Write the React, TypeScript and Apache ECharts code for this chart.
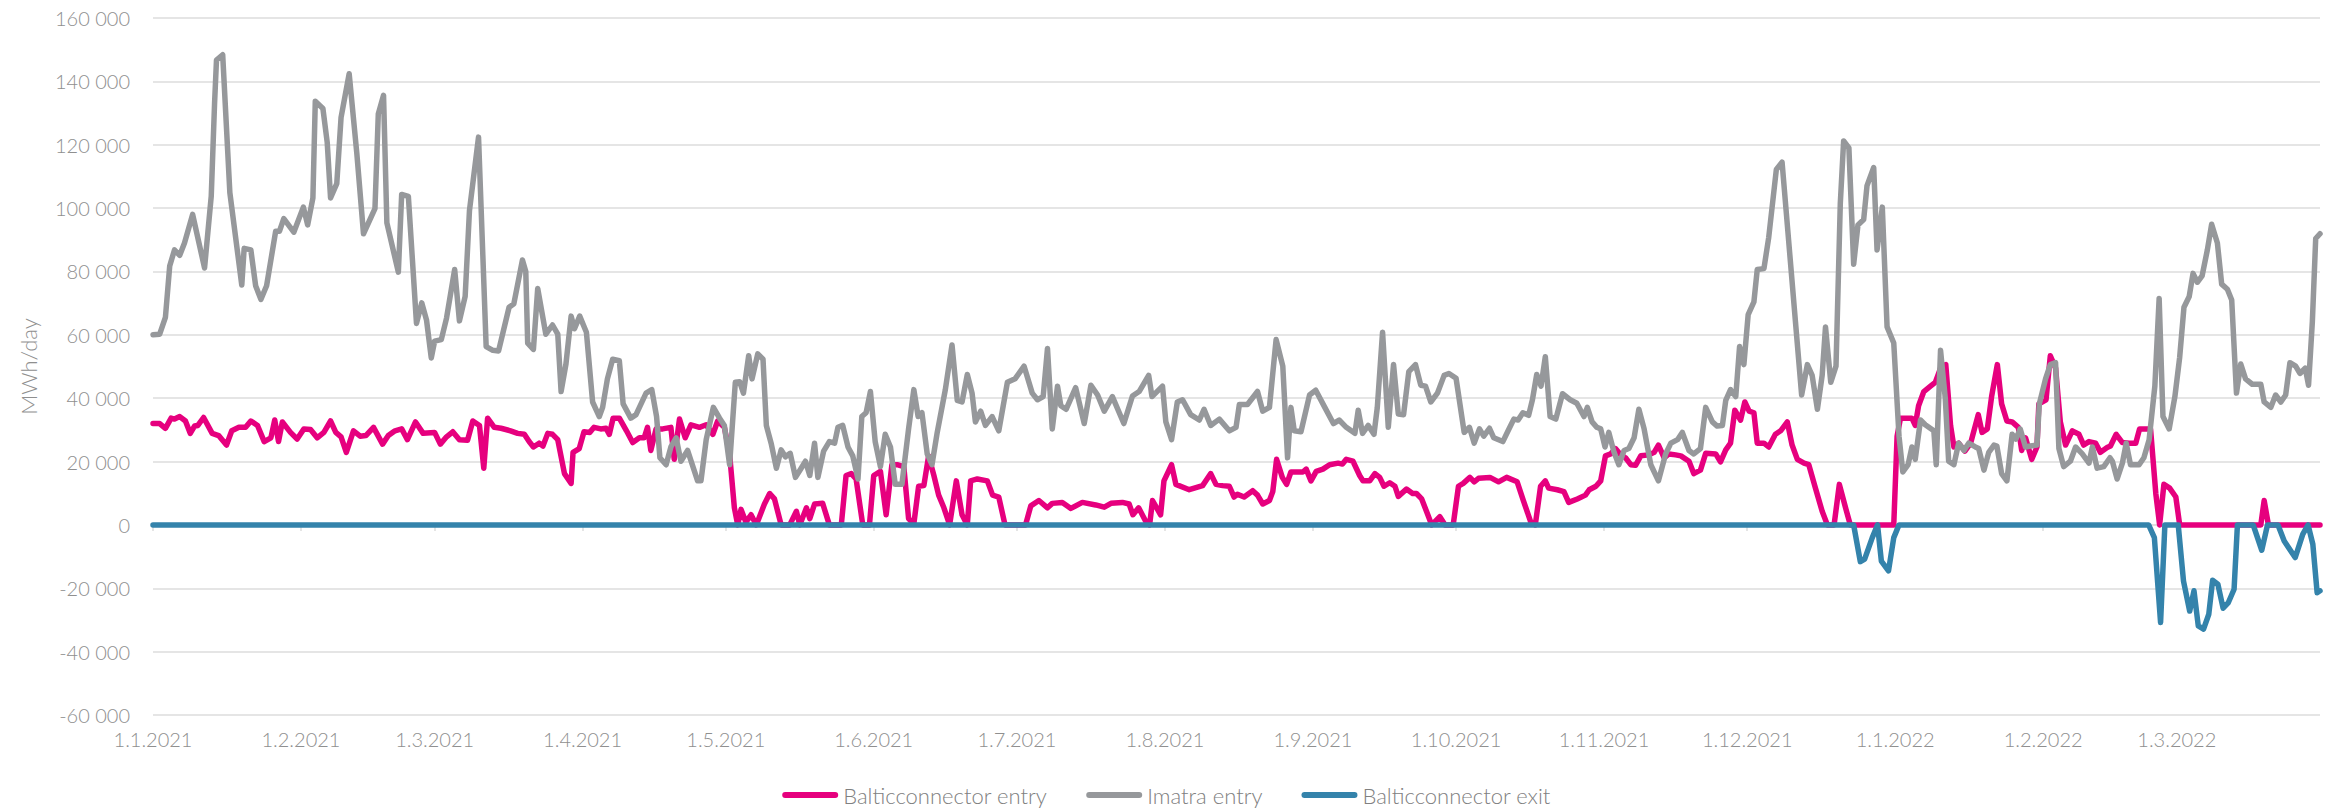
import React, { useEffect, useRef } from 'react';
import * as echarts from 'echarts';

// Day offsets are counted from 1.1.2021 (day 0); 31.3.2022 is day 454.
const monthTickDays = [0, 31, 59, 90, 120, 151, 181, 212, 243, 273, 304, 334, 365, 396, 424];
const monthTickLabels = [
  '1.1.2021', '1.2.2021', '1.3.2021', '1.4.2021', '1.5.2021', '1.6.2021', '1.7.2021', '1.8.2021',
  '1.9.2021', '1.10.2021', '1.11.2021', '1.12.2021', '1.1.2022', '1.2.2022', '1.3.2022',
];
const firstDay = 0;
const lastDay = 454;
const yTicks = { min: -60000, max: 160000, step: 20000 };

const seriesNames = ['Balticconnector entry', 'Imatra entry', 'Balticconnector exit'];

// [day offset, MWh/day]
const balticconnectorEntry: [number, number][] = [
  [0, 32000], [1.4, 32000], [2.6, 30500], [3.8, 33700], [4.5, 33400], [5.6, 34200], [6.8, 32800], [7.8, 28900],
  [8.7, 31200], [9.4, 31400], [10.6, 33900], [12.4, 28900], [13.75, 28200], [15.4, 25200], [16.5, 29700], [18, 30800],
  [19.4, 30800], [20.5, 32800], [21.9, 31400], [23.3, 26300], [24.7, 27500], [25.5, 33100], [26.3, 26300], [27.1, 32500],
  [28.8, 29200], [30.2, 27100], [31.6, 30300], [33, 30100], [34.4, 27500], [35.8, 29200], [37.2, 32800], [38.3, 29200],
  [39.4, 27800], [40.5, 22900], [42, 29700], [43.4, 28000], [44.6, 28200], [46.2, 30800], [48.1, 25500], [49.3, 28200],
  [50.7, 29700], [52.1, 30300], [53.3, 26900], [55, 32500], [56.6, 28900], [59, 29200], [60.2, 25500], [61.5, 27800],
  [62.8, 29400], [64.2, 26900], [65.9, 26700], [67, 32800], [68.4, 31400], [69.3, 17900], [70.1, 33700], [71.5, 30800],
  [72.9, 30500], [74.9, 29700], [76.4, 28900], [77.8, 28600], [78.8, 26300], [79.7, 24600], [80.9, 25800], [81.7, 24900],
  [82.7, 28900], [83.7, 28600], [84.8, 26900], [86.2, 16200], [87.6, 13100], [88, 22900], [89.3, 24100], [90.3, 29400],
  [91.5, 29200], [92.4, 30800], [93.8, 30300], [94.9, 30500], [95.6, 28600], [96.4, 33700], [97.7, 33700], [99.2, 29700],
  [100.5, 26000], [101.9, 27500], [102.9, 27500], [103.6, 30800], [104.3, 23500], [105.4, 30300], [106.8, 30300], [108.5, 30800],
  [109.2, 20700], [110.3, 33400], [111.5, 27500], [112.7, 31600], [114.5, 30800], [115.9, 31600], [117.3, 28600], [118.3, 32800],
  [119.7, 30800], [120.8, 22400], [121.8, 5400], [122.5, 0], [123.2, 4900], [124.2, 900], [125.3, 3200], [126.4, 0],
  [128.1, 6600], [129.2, 9900], [130.2, 8200], [131.6, 0], [133.4, 0], [134.8, 4300], [135.5, 0], [136.9, 5400],
  [137.6, 2000], [138.6, 6600], [140.3, 6800], [141.7, 0], [144.2, 0], [145.2, 15600], [146.3, 16200], [147.3, 14500],
  [148.7, 0], [150.1, 0], [151, 15600], [152.4, 16900], [153.6, 3200], [154.8, 19000], [155.9, 19000], [157.3, 18400],
  [158.3, 2000], [159.4, 300], [160.4, 12200], [161.5, 12400], [162.5, 21800], [163.6, 15600], [164.6, 9400], [165.7, 5400],
  [166.9, 0], [168.3, 13900], [169.5, 3200], [170.6, 0], [171.3, 13900], [172.7, 14500], [174.8, 13900], [175.9, 9400],
  [177.2, 8800], [178.5, 0], [182.8, 0], [183.9, 6000], [185.6, 7700], [187.4, 5400], [188.4, 6800], [190.5, 7100],
  [192.3, 5200], [194.7, 7100], [197.5, 6300], [199.3, 5600], [200.7, 6800], [203.1, 7100], [204.5, 6600], [205.3, 3200],
  [206.5, 5400], [208, 1100], [208.8, 0], [209.4, 7700], [211.1, 3200], [211.8, 13900], [213.4, 19000], [214.3, 12800],
  [217.1, 11100], [219.9, 12400], [221.6, 16200], [222.7, 12800], [224.1, 12400], [225.5, 12200], [226.5, 8800], [227.2, 9700],
  [228.6, 8800], [230.4, 10800], [231.4, 9400], [232.5, 6600], [233.9, 7700], [234.6, 10500], [235.4, 20700], [236.6, 15000],
  [237.5, 12800], [238.4, 16700], [240.9, 16700], [241.6, 17600], [242.6, 13900], [243.7, 16900], [245.1, 17600], [246.5, 19000],
  [248.3, 19500], [249.2, 19200], [250, 20700], [251.4, 20100], [252.8, 15600], [253.5, 13900], [254.9, 13900], [256, 16200],
  [257, 15000], [257.9, 12200], [259.1, 13300], [260.2, 12200], [260.9, 9000], [262.6, 11300], [263.9, 9900], [264.7, 9900],
  [265.8, 8200], [266.8, 4300], [267.9, 0], [269.6, 2600], [270.7, 0], [272.4, 0], [273.5, 12200], [274.5, 13100],
  [275.9, 15000], [276.8, 13600], [277.7, 14700], [280.1, 15000], [281.9, 13600], [283.6, 15000], [285.8, 13600], [287.1, 7700],
  [288.6, 1100], [289.6, 0], [290.7, 12200], [291.7, 13900], [292.4, 11600], [294.2, 11100], [295.6, 10500], [296.6, 7100],
  [298.4, 8200], [300.1, 9400], [300.9, 11100], [302.3, 12200], [303.3, 13900], [304.3, 21800], [305.4, 22400], [306.4, 24100],
  [307.5, 22100], [308.5, 21200], [309.6, 19000], [310.6, 18800], [311.7, 21800], [313.4, 22100], [314.5, 22900], [315.4, 25200],
  [316.6, 21200], [317.6, 22400], [319, 22100], [320.1, 21800], [321.8, 20100], [322.8, 16200], [324.2, 17300], [325.3, 22600],
  [327.4, 22400], [328.4, 19900], [329.5, 23700], [330.5, 25800], [331.4, 36200], [332.6, 33100], [333.5, 38800], [334.4, 35900],
  [335.4, 35400], [336.1, 25800], [337.5, 25800], [338.5, 24600], [339.9, 28600], [341, 29700], [342.4, 32500], [343.4, 25200],
  [344.5, 20700], [345.9, 19500], [346.9, 19000], [348.3, 11600], [349.7, 4300], [350.8, 0], [352.2, 0], [353.3, 12800],
  [354.6, 5400], [355.6, 0], [364.7, 0], [365.4, 28000], [366.1, 33700], [368.5, 33700], [369.2, 31400], [369.9, 37600],
  [371, 42100], [372.4, 43800], [373.4, 45000], [374.5, 49500], [375.6, 50600], [376.6, 31400], [377.3, 24600], [378.3, 25800],
  [379.6, 23300], [380.8, 25800], [382.4, 34800], [383.2, 29200], [384.3, 30300], [385.2, 40500], [386.4, 50600], [387.3, 38200],
  [388.4, 32800], [389.5, 32500], [390.8, 30800], [391.5, 23500], [392.3, 27500], [393.6, 20700], [394.7, 24600], [395.1, 38200],
  [396.6, 39500], [397.5, 53400], [398.6, 49500], [399.6, 32500], [400.7, 25200], [402.1, 29700], [403.5, 28600], [404.5, 25200],
  [405.6, 26300], [407, 25800], [408, 22900], [409.4, 24400], [410.1, 24900], [411.3, 28600], [412.6, 26000], [414, 25800],
  [415.4, 25800], [416.2, 30300], [418.5, 30300], [419.6, 9900], [420.4, 0], [421.3, 12800], [422.5, 11600], [423.8, 8800],
  [424.6, 0], [441.6, 0], [442.3, 7700], [443.2, 0], [454, 0],
];

const imatraEntry: [number, number][] = [
  [0, 60000], [1.4, 60200], [2.6, 65500], [3.5, 81700], [4.5, 86800], [5.6, 85100], [6.6, 89000], [8.3, 98000],
  [10.8, 81100], [12.2, 103700], [12.9, 133100], [13.3, 146700], [14.6, 148400], [16.1, 104900], [18.6, 75700], [19.1, 87300],
  [20.5, 86800], [21.5, 75500], [22.6, 71200], [23.8, 75500], [25.7, 92700], [26.5, 92700], [27.4, 96700], [29.5, 92400],
  [31.5, 100300], [32.4, 94700], [33.5, 103200], [34, 133700], [35.6, 131400], [36.5, 120700], [37.2, 103200], [38.5, 107700],
  [39.4, 128600], [41.1, 142400], [42.7, 117300], [44.1, 91900], [46.5, 99800], [47.2, 129700], [48.3, 135600], [49, 95300],
  [51.4, 79800], [52.1, 104300], [53.5, 103700], [55.2, 63600], [56.3, 70100], [57.3, 64700], [58.3, 52700], [59, 58000],
  [60.4, 58500], [61.5, 65300], [63.2, 80600], [64.2, 64400], [65.4, 72100], [66.3, 99200], [68.2, 122400], [69.8, 56300],
  [71.2, 55100], [72.4, 54900], [74.6, 68700], [75.6, 69800], [77.4, 83600], [78.1, 80000], [78.5, 57400], [79.7, 55400],
  [80.6, 74600], [82.3, 60200], [83.7, 63100], [84.8, 60200], [85.5, 42100], [86.5, 50600], [87.6, 65900], [88.3, 61900],
  [89.4, 65900], [90.8, 60800], [92.1, 38800], [93.5, 34200], [94.2, 37100], [95.2, 46100], [96.3, 52300], [97.7, 51800],
  [98.5, 38200], [100.1, 33700], [101.2, 34800], [103.3, 41600], [104.5, 42700], [105.5, 34200], [106.2, 21200], [107.5, 19000],
  [108.5, 24600], [109.6, 27500], [110.6, 20100], [112, 23500], [114.1, 13900], [114.8, 13900], [115.9, 26900], [117.4, 37100],
  [118.7, 33700], [119.7, 31400], [120.8, 19000], [122, 45000], [122.9, 45200], [123.7, 41600], [124.8, 53400], [125.5, 46100],
  [126.7, 54000], [127.8, 52300], [128.5, 31400], [129.5, 25800], [130.6, 17900], [131.6, 23700], [132.5, 21500], [133.5, 22600],
  [134.6, 15000], [135.8, 17900], [136.7, 20100], [137.6, 15600], [138.6, 25800], [139.3, 15000], [140.5, 23300], [141.7, 26300],
  [142.8, 25800], [143.5, 30800], [144.5, 31400], [145.6, 24600], [146.6, 21800], [147.7, 14500], [148.5, 34200], [149.4, 35400],
  [150.3, 42100], [151.3, 26300], [152.4, 18400], [153.4, 28600], [154.5, 24600], [155.5, 12800], [156.9, 12800], [158.3, 30300],
  [159.4, 42700], [160.3, 34200], [161.1, 35400], [162.2, 22400], [163.2, 19000], [164.3, 29200], [166, 42700], [167.4, 56800],
  [168.5, 39300], [169.5, 38800], [170.6, 47500], [171.6, 41600], [172.3, 32500], [173.4, 35900], [174.4, 31400], [175.8, 34200],
  [177.2, 29700], [179, 45000], [180.6, 46100], [182.5, 50100], [184.2, 41600], [185.3, 39500], [186.5, 40500], [187.4, 55700],
  [188.4, 30300], [189.5, 43800], [190.2, 37600], [191.3, 36500], [193.3, 43300], [195.1, 32000], [196.5, 44100], [197.9, 41000],
  [199.3, 35900], [201, 40500], [203.4, 32000], [205.2, 40700], [206.6, 42100], [208.6, 47200], [209.3, 40500], [211.5, 43800],
  [212.2, 32500], [213.4, 26900], [214.6, 38800], [215.7, 39500], [217.4, 34800], [219.2, 33100], [220.2, 36500], [221.6, 31400],
  [223.4, 33400], [225.5, 29700], [226.9, 30800], [227.6, 38000], [229.3, 38000], [231.4, 42100], [232.5, 35900], [233.9, 37100],
  [235.3, 58500], [236.7, 50100], [237.7, 21200], [238.4, 37100], [239.1, 29700], [240.5, 29400], [242.3, 41000], [243.6, 42500],
  [245.5, 37100], [247.3, 32000], [248.5, 33100], [250, 30800], [251.8, 28900], [252.5, 36200], [253.4, 28900], [254.6, 31400],
  [255.8, 28600], [256.5, 37100], [257.6, 60800], [258.8, 30800], [259.9, 50600], [260.9, 35000], [262, 34800], [263.1, 48400],
  [264.5, 50600], [265.6, 44100], [266.6, 43800], [267.7, 38800], [269.1, 41600], [270.5, 47200], [271.5, 47800], [273, 46300],
  [274.7, 29200], [275.8, 30800], [276.8, 25800], [277.9, 30300], [278.8, 28000], [280, 30500], [280.9, 27500], [282.8, 26300],
  [283.9, 29700], [285.1, 33400], [286, 33100], [287, 35400], [288.2, 34600], [289, 39500], [289.9, 47500], [290.8, 43800],
  [291.7, 53100], [292.7, 34200], [293.9, 33400], [295.3, 41400], [296.9, 39500], [298.3, 38400], [299.8, 34200], [300.5, 37100],
  [301.5, 32500], [302.5, 30800], [303.3, 30300], [304.2, 24600], [305, 29200], [306.1, 22900], [307.1, 19000], [308.2, 23500],
  [309.2, 24100], [310.3, 27500], [311.3, 36500], [312.4, 30300], [313.8, 19000], [315.4, 13900], [316.9, 22400], [318, 25800],
  [319.4, 26900], [320.4, 29200], [321.8, 23500], [322.8, 22400], [324.2, 24100], [325.3, 37100], [326.7, 32500], [327.7, 31200],
  [328.8, 31400], [329.5, 39300], [330.5, 42700], [331.6, 40500], [332.4, 56300], [333.3, 50600], [334.2, 66400], [335.4, 70400],
  [336.1, 80600], [337.5, 80900], [338.5, 90700], [340.1, 112200], [341.3, 114500], [342.4, 94700], [344.1, 64200], [345.4, 41000],
  [346.6, 50600], [347.6, 47200], [348.7, 36500], [349.7, 47200], [350.4, 62500], [351.5, 45000], [352.6, 50100], [353.5, 101500],
  [354.2, 121200], [355.3, 119000], [356.3, 82300], [357.2, 94700], [358.4, 96400], [359.1, 107100], [360.5, 112800], [361.2, 86800],
  [362.3, 100300], [363.3, 62500], [364.7, 57400], [365.8, 28000], [366.6, 16700], [367.7, 19000], [368.5, 24600], [369.2, 20700],
  [370.3, 33100], [371.3, 31600], [373.1, 29700], [373.6, 19000], [374.5, 55100], [375.5, 39900], [376.2, 20100], [377.3, 19000],
  [378.3, 25800], [379.4, 23500], [380.4, 25800], [381.8, 24600], [382.5, 24100], [383.6, 17300], [384.6, 22900], [385.7, 25200],
  [386.3, 24900], [387.3, 16200], [388.4, 13900], [389.5, 28600], [390.3, 27100], [391.2, 30300], [392.3, 24600], [393.3, 24900],
  [394.7, 25200], [395.2, 38200], [396.5, 46100], [397.5, 50600], [398.6, 51200], [399.3, 24100], [400.3, 18400], [401.7, 20100],
  [402.8, 24600], [404.2, 22400], [405.6, 19500], [406.3, 24600], [407.3, 17900], [408.7, 18400], [410, 21200], [410.5, 20100],
  [411.5, 14500], [412.6, 19500], [413.4, 25800], [414.3, 19000], [416.1, 19000], [417.1, 21200], [418.2, 26900], [419.4, 43800],
  [420.3, 71500], [421.1, 34200], [422.4, 30300], [423.6, 40500], [424.6, 52900], [425.5, 68700], [426.6, 72100], [427.4, 79400],
  [428.3, 76600], [429.3, 78600], [430.4, 86800], [431.3, 94900], [432.5, 89000], [433.4, 76000], [434.6, 74400], [435.5, 71000],
  [436.5, 41600], [437.4, 50800], [438.4, 46100], [439.8, 44400], [441.6, 44400], [442.3, 38800], [443.7, 37100], [444.7, 41000],
  [445.8, 38800], [446.8, 41000], [447.7, 51200], [448.9, 50100], [449.8, 47800], [450.9, 49500], [451.6, 44100], [452.4, 64200],
  [453.1, 90400], [454, 91900],
];

const balticconnectorExit: [number, number][] = [
  [0, 0], [356.3, 0], [357.7, -11600], [358.6, -10800], [360.2, -4000], [361.3, 0], [362.1, -11400], [363.6, -14500],
  [364.7, -4000], [365.8, 0], [418.1, 0], [419.3, -4000], [420.6, -30800], [421.5, 0], [424.3, 0], [425.4, -17700],
  [426.7, -27200], [427.6, -20800], [428.5, -31900], [429.6, -32900], [430.7, -28200], [431.5, -17500], [432.6, -18700],
  [433.7, -26300], [434.8, -24500], [436, -20300], [436.7, 0], [440, 0], [441.8, -8000], [443, 0], [445.2, 0],
  [446.5, -5100], [448.8, -10300], [450.4, -2900], [451.5, 0], [452.5, -6100], [453.4, -21400], [454, -20800],
];

const COLORS = ['#E6007E', '#96989B', '#3483AB'];
const TEXT = '#8f8f8f';
const GRIDLINE = '#dcdcdc';
const FONT = 'Lato';

const fmtNumber = (v: number) => {
  const s = Math.abs(v).toString().replace(/\B(?=(\d{3})+(?!\d))/g, ' ');
  return (v < 0 ? '-' : '') + s;
};

const monthLabel = (v: number) => {
  const i = monthTickDays.indexOf(Math.round(v));
  return i >= 0 ? monthTickLabels[i] : '';
};

export default function App() {
  const ref = useRef<HTMLDivElement>(null);

  useEffect(() => {
    if (!ref.current) return;
    const chart = echarts.init(ref.current, undefined, { renderer: 'svg' });
    const seriesData = [balticconnectorEntry, imatraEntry, balticconnectorExit];
    chart.setOption({
      animation: false,
      backgroundColor: '#ffffff',
      textStyle: { fontFamily: FONT },
      grid: { left: 153, right: 13, top: 18, bottom: 94 },
      xAxis: [
        {
          type: 'value',
          min: firstDay,
          max: lastDay,
          axisLine: { show: true, onZero: true, lineStyle: { color: GRIDLINE, width: 1.5 } },
          axisTick: { show: true, customValues: monthTickDays, length: 6, lineStyle: { color: GRIDLINE, width: 1.5 } },
          axisLabel: { show: false },
          splitLine: { show: false },
        },
        {
          type: 'value',
          min: firstDay,
          max: lastDay,
          position: 'bottom',
          axisLine: { show: false, onZero: false },
          axisTick: { show: false },
          splitLine: { show: false },
          axisLabel: {
            customValues: monthTickDays,
            formatter: (v: number) => monthLabel(v),
            color: TEXT,
            fontFamily: FONT,
            fontWeight: 300,
            fontSize: 20,
            margin: 14,
          },
        },
      ],
      yAxis: {
        type: 'value',
        min: yTicks.min,
        max: yTicks.max,
        interval: yTicks.step,
        name: 'MWh/day',
        nameLocation: 'middle',
        nameGap: 114,
        nameTextStyle: { color: TEXT, fontFamily: FONT, fontWeight: 300, fontSize: 22 },
        axisLine: { show: false },
        axisTick: { show: false },
        axisLabel: {
          formatter: (v: number) => fmtNumber(v),
          color: TEXT,
          fontFamily: FONT,
          fontWeight: 300,
          fontSize: 20,
          margin: 23,
        },
        splitLine: { lineStyle: { color: GRIDLINE, width: 1.5 } },
      },
      legend: {
        top: 779,
        left: 'center',
        itemWidth: 56,
        itemHeight: 6,
        itemGap: 39,
        icon: 'path://M3,0 L53,0 A3,3 0 0 1 53,6 L3,6 A3,3 0 0 1 3,0 Z',
        textStyle: { color: '#808080', fontFamily: FONT, fontWeight: 300, fontSize: 22 },
        data: seriesNames,
      },
      series: seriesNames.map((name, i) => ({
        name,
        type: 'line',
        xAxisIndex: 0,
        data: seriesData[i],
        showSymbol: false,
        symbol: 'none',
        color: COLORS[i],
        itemStyle: { color: COLORS[i] },
        lineStyle: { color: COLORS[i], width: 5.5, cap: 'round', join: 'round' },
        emphasis: { disabled: true },
      })),
    });
    return () => chart.dispose();
  }, []);

  return (
    <div
      ref={ref}
      style={{ position: 'fixed', left: 0, top: 0, width: 2333, height: 809, background: '#fff' }}
    />
  );
}
